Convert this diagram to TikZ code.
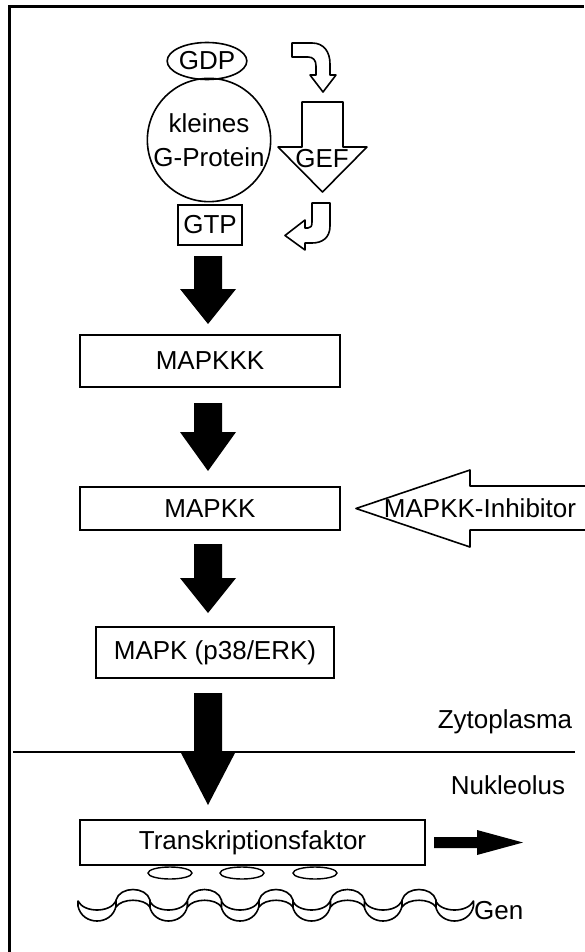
\documentclass[tikz,border=0pt]{standalone}
\usepackage{fontspec}
\setmainfont{Liberation Sans}
\usetikzlibrary{calc, positioning, shapes.geometric}

% fat black arrow from one box down to the next
\newcommand{\fatdown}[4]{%
  \fill let \p1 = (#1.south), \p2 = (#2.north) in
    (194pt,{\y1-#3pt}) -- (222pt,{\y1-#3pt}) -- (222pt,{\y2+#3pt+#4pt})
    -- (236pt,{\y2+#3pt+#4pt}) -- (208pt,{\y2+#3pt})
    -- (180pt,{\y2+#3pt+#4pt}) -- (194pt,{\y2+#3pt+#4pt}) -- cycle;}

\begin{document}
\begin{tikzpicture}[x=1pt, y=-1pt,
    every node/.style={font=\fontsize{26}{34}\selectfont, inner sep=0pt},
    box/.style={draw, line width=2pt},
    outline/.style={draw, line width=1.6pt, line join=round},
    gene/.style={draw, fill=white, line width=1.6pt, line join=round}]

\useasboundingbox (0,0) rectangle (584,952);

% Frame
\draw[line width=3pt] (9.5,952) -- (9.5,6.5) -- (584,6.5);

% Small G-protein with GDP and GTP
\node[ellipse, outline, minimum width=70, minimum height=37] (gdp) at (207,61) {GDP};
\node[circle, outline, minimum size=122, align=center] (gprot) at (209,140) {kleines\\G-Protein};
\node[box, minimum width=64, minimum height=40] (gtp) at (210,225) {GTP};

% GEF arrow with the two bent arrows
\draw[outline] (292,43) -- (312,43) .. controls (324,43) and (330,52) .. (330,64)
    -- (330,75) -- (336,75) -- (323,92) -- (310,75) -- (316,75) -- (316,66)
    .. controls (316,60) and (313,57) .. (308,57) -- (292,57) -- cycle;
\draw[outline] (302,102) -- (343,102) -- (343,147) -- (367,147) -- (322.5,192)
    -- (278,147) -- (302,147) -- cycle;
\node (gef) at (322,159) {GEF};
\draw[outline] (312,203) -- (330,203) -- (330,226) .. controls (330,238) and (322,243) .. (312,243)
    -- (305,243) -- (305,250) -- (285,235.5) -- (305,220) -- (305,228) -- (308,228)
    .. controls (311,228) and (312,226) .. (312,222) -- cycle;

% Kinase cascade
\node[box, minimum width=260, minimum height=52] (mapkkk) at (210,361) {MAPKKK};
\node[box, minimum width=260, minimum height=43] (mapkk) at (210,508.5) {MAPKK};
\node[box, minimum width=238, minimum height=51] (mapk) at (215,652.5) {MAPK (p38/ERK)};
\node[box, minimum width=345, minimum height=45] (tf) at (252.5,842.5) {Transkriptionsfaktor};

\fatdown{gtp}{mapkkk}{10}{35}
\fatdown{mapkkk}{mapkk}{15}{39}
\fatdown{mapkk}{mapk}{13}{35}
\fatdown{mapk}{tf}{14}{54}

% Inhibitor
\draw[outline] ($(mapkk.east)+(15,0)$) -- (470,470) -- (470,486) -- (600,486)
    -- (600,530) -- (470,530) -- (470,547) -- cycle;
\node (inhib) at (480,508) {MAPKK-Inhibitor};

% Membrane between the compartments
\draw[line width=2pt] (13,752) -- (575,752);
\node (zyto) at (505,722) {Zytoplasma};
\node (nukl) at (508,785) {Nukleolus};

% Output arrow of the transcription factor
\coordinate (tfout) at (523,842.5);
\fill ($(tf.east)+(8,-5.5)$) -- ($(tfout)+(-46,-5.5)$) -- ($(tfout)+(-46,-12.5)$)
    -- (tfout) -- ($(tfout)+(-46,12.5)$) -- ($(tfout)+(-46,5.5)$)
    -- ($(tf.east)+(8,5.5)$) -- cycle;

% Binding sites
\foreach \x in {170,242,315}
{
    \draw[line width=1.4pt] (\x,873) ellipse (22 and 6);
}

% Gene strand: lower bends
\foreach \i in {0,...,5}
{
    \pgfmathsetmacro\u{78+71.5*\i}
    \draw[gene] (\u,901) -- (\u,906) .. controls (\u+4,926) and (\u+34,926) .. (\u+38,906)
        -- (\u+38,901) .. controls (\u+32,913) and (\u+6,913) .. cycle;
}
% Gene strand: upper bends
\foreach \i in {0,...,4}
{
    \pgfmathsetmacro\c{116+71.5*\i}
    \draw[gene] (\c,907) -- (\c,900) .. controls (\c+4,886) and (\c+30,886) .. (\c+34,900)
        -- (\c+34,907) .. controls (\c+28,898) and (\c+6,898) .. cycle;
}
\node[anchor=west] (gen) at (474,911) {Gen};

\end{tikzpicture}
\end{document}
